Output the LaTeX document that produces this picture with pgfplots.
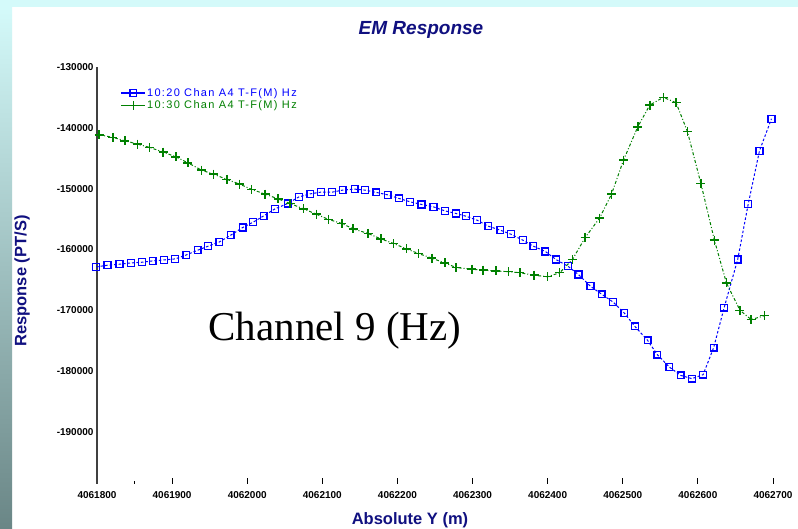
\documentclass[border=0pt]{standalone}
\usepackage{fontspec}
\setmainfont{Liberation Sans}
\newfontfamily\seriffont{Liberation Serif}
\newfontfamily\legfont[LetterSpace=12]{Liberation Sans}
\usepackage{pgfplots}
\pgfplotsset{compat=1.18}
\definecolor{navy}{RGB}{16,16,128}
\definecolor{bgcyan}{RGB}{212,250,250}
\definecolor{stripbot}{RGB}{106,134,134}
\definecolor{axgray}{RGB}{64,64,64}
\definecolor{gr}{RGB}{0,128,0}
\definecolor{bl}{RGB}{0,0,255}

\pgfplotstableread{
x y
4061799 -162891
4061814 -162611
4061830 -162446
4061845 -162232
4061860 -162117
4061874 -161902
4061889 -161738
4061904 -161573
4061919 -160914
4061934 -160140
4061948 -159481
4061963 -158773
4061978 -157670
4061994 -156401
4062008 -155529
4062022 -154491
4062037 -153338
4062054 -152449
4062069 -151362
4062084 -150867
4062098 -150588
4062113 -150588
4062127 -150258
4062143 -150093
4062157 -150258
4062172 -150637
4062187 -151032
4062202 -151625
4062217 -152185
4062232 -152613
4062248 -153009
4062263 -153667
4062278 -154096
4062291 -154540
4062306 -155199
4062321 -156187
4062337 -156846
4062351 -157505
4062367 -158493
4062381 -159481
4062397 -160354
4062411 -161672
4062427 -162775
4062441 -164142
4062457 -166069
4062472 -167387
4062487 -168655
4062502 -170467
4062516 -172657
4062533 -174963
4062546 -177318
4062562 -179361
4062577 -180728
4062592 -181271
4062607 -180612
4062621 -176165
4062635 -169577
4062653 -161672
4062667 -152564
4062682 -143785
4062698 -138515
}\bluedata

\pgfplotstableread{
x y
4061803 -141150
4061821 -141578
4061837 -142138
4061854 -142682
4061870 -143225
4061888 -144000
4061905 -144774
4061921 -145762
4061939 -146964
4061955 -147623
4061973 -148496
4061990 -149270
4062006 -150143
4062024 -150917
4062041 -151691
4062057 -152449
4062075 -153338
4062092 -154211
4062108 -155067
4062126 -155743
4062141 -156632
4062161 -157390
4062178 -158279
4062195 -159037
4062212 -159926
4062228 -160684
4062246 -161458
4062263 -162232
4062278 -162989
4062299 -163269
4062314 -163434
4062331 -163549
4062348 -163681
4062363 -163846
4062382 -164258
4062400 -164505
4062416 -163846
4062433 -161672
4062450 -158048
4062469 -154870
4062485 -150917
4062501 -145317
4062520 -139833
4062536 -136259
4062554 -134990
4062571 -135880
4062586 -140590
4062604 -149155
4062622 -158493
4062638 -165526
4062656 -170022
4062671 -171554
4062689 -170895
}\greendata

\begin{document}
\begin{tikzpicture}
\useasboundingbox (0pt,0pt) rectangle (798pt,529pt);
\fill[white] (0pt,0pt) rectangle (798pt,529pt);
\fill[bgcyan] (0pt,522pt) rectangle (798pt,529pt);
\shade[top color=bgcyan, bottom color=stripbot] (0pt,0pt) rectangle (12pt,522pt);
\begin{axis}[
  at={(97pt,45pt)}, anchor=south west,
  scale only axis, width=676pt, height=417pt,
  xmin=4061800, xmax=4062700, ymin=-198600, ymax=-130000,
  separate axis lines,
  axis x line*=bottom, axis y line*=left,
  x axis line style={draw=none},
  y axis line style={draw=axgray, line width=1.8pt, -},
  xtick={4061800,4061900,4062000,4062100,4062200,4062300,4062400,4062500,4062600,4062700},
  ytick={-190000,-180000,-170000,-160000,-150000,-140000,-130000},
  extra x ticks={4061850},
  extra x tick labels={},
  extra x tick style={major tick length=3pt},
  scaled ticks=false,
  xtick align=inside,
  major tick length=6pt,
  xtick style={black, line width=0.9pt},
  ytick style={draw=none},
  /pgf/number format/.cd, 1000 sep={}, fixed, precision=0, assume math mode=true,
  /pgfplots/.cd,
  tick label style={font=\fontsize{10}{10}\selectfont\bfseries},
  x tick label style={yshift=-4pt},
  legend style={at={(0.03,0.957)}, anchor=north west, draw=none, fill=none,
    font=\legfont\fontsize{11}{11}\selectfont, row sep=1pt,
    nodes={inner sep=1pt}},
  legend image code/.code={%
    \draw[mark repeat=2,mark phase=2,solid,line width=1.6pt] plot coordinates {(0pt,0pt) (12pt,0pt) (24pt,0pt)};},
  legend cell align=left,
  clip=false,
]
\addplot[bl, line width=1pt, dash pattern=on 2.5pt off 2pt,
  mark=square, mark size=3.4pt, mark options={solid, line width=1.3pt}]
  table[x=x,y=y] {\bluedata};
\addlegendentry{\textcolor{bl}{10:20 Chan A4 T-F(M) Hz}}
\addplot[gr, line width=1pt, dash pattern=on 3pt off 2pt on 1pt off 2pt,
  mark=+, mark size=4.5pt, mark options={solid, line width=1.5pt}]
  table[x=x,y=y] {\greendata};
\addlegendentry{\textcolor{gr}{10:30 Chan A4 T-F(M) Hz}}
\end{axis}
\node[navy, font=\fontsize{19}{19}\selectfont\bfseries\itshape] at (421pt,499pt) {EM Response};
\node[navy, rotate=90, font=\fontsize{16.5}{16.5}\selectfont\bfseries] at (22pt,248pt) {Response (PT/S)};
\node[navy, font=\fontsize{16.5}{16.5}\selectfont\bfseries] at (410pt,9pt) {Absolute Y (m)};
\node[black, font=\seriffont\fontsize{41}{41}\selectfont] at (335pt,198pt) {Channel 9 (Hz)};
\end{tikzpicture}
\end{document}
